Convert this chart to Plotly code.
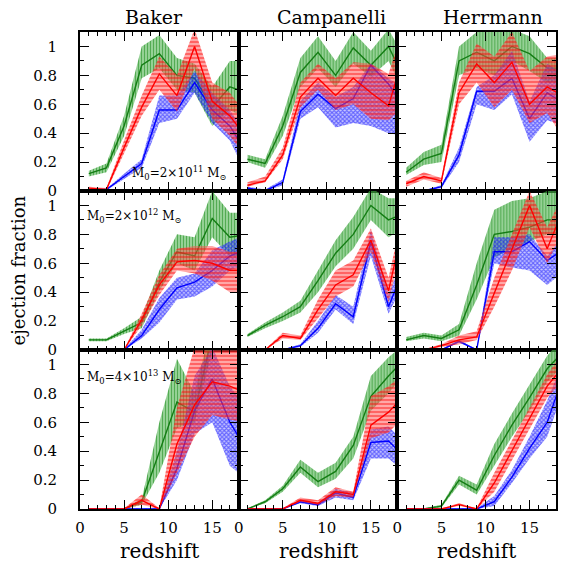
import plotly.graph_objects as go
from plotly.subplots import make_subplots

redshift = [1, 3, 5, 7, 9, 11, 13, 15, 17, 19]
models = ["Baker", "Campanelli", "Herrmann"]
mass_labels = ["M<sub>0</sub>=2×10<sup>11</sup> M<sub>⊙</sub>",
               "M<sub>0</sub>=2×10<sup>12</sup> M<sub>⊙</sub>",
               "M<sub>0</sub>=4×10<sup>13</sup> M<sub>⊙</sub>"]
y_ticks = [0, 0.2, 0.4, 0.6, 0.8, 1]
y_ticktext = ["0", "0.2", "0.4", "0.6", "0.8", "1"]
x_ticks = [0, 5, 10, 15]

# ---- Baker, M0 = 2e11 ----
baker_11_green_mid = [0.12, 0.16, 0.45, 0.87, 0.95, 0.80, 0.78, 0.58, 0.72, 0.68]
baker_11_green_lo = [0.10, 0.13, 0.38, 0.78, 0.85, 0.70, 0.68, 0.45, 0.56, 0.50]
baker_11_green_hi = [0.14, 0.19, 0.52, 1.00, 1.08, 0.92, 0.88, 0.72, 0.90, 0.90]
baker_11_red_mid = [0.02, 0.01, 0.30, 0.58, 0.81, 0.66, 1.00, 0.62, 0.52, 0.36]
baker_11_red_lo = [0.01, 0.00, 0.26, 0.52, 0.70, 0.55, 0.85, 0.50, 0.38, 0.22]
baker_11_red_hi = [0.03, 0.02, 0.35, 0.66, 0.93, 0.80, 1.12, 0.75, 0.68, 0.52]
baker_11_blue_mid = [0.01, 0.01, 0.10, 0.19, 0.56, 0.56, 0.75, 0.56, 0.45, 0.25]
baker_11_blue_lo = [0.005, 0.005, 0.08, 0.16, 0.47, 0.50, 0.68, 0.47, 0.35, 0.10]
baker_11_blue_hi = [0.015, 0.015, 0.12, 0.22, 0.66, 0.66, 0.83, 0.68, 0.56, 0.38]

# ---- Campanelli, M0 = 2e11 ----
camp_11_green_mid = [0.22, 0.19, 0.45, 0.82, 0.96, 0.80, 0.99, 0.87, 1.00, 0.75]
camp_11_green_lo = [0.20, 0.16, 0.38, 0.72, 0.85, 0.72, 0.88, 0.79, 0.90, 0.65]
camp_11_green_hi = [0.25, 0.22, 0.52, 0.92, 1.07, 0.90, 1.10, 0.97, 1.12, 0.90]
camp_11_red_mid = [0.04, 0.07, 0.25, 0.65, 0.78, 0.66, 0.78, 0.68, 0.59, 1.00]
camp_11_red_lo = [0.03, 0.06, 0.22, 0.58, 0.70, 0.56, 0.60, 0.50, 0.49, 0.60]
camp_11_red_hi = [0.06, 0.10, 0.30, 0.75, 0.88, 0.78, 0.89, 0.88, 0.81, 1.20]
camp_11_blue_mid = [0.02, 0.00, 0.06, 0.55, 0.67, 0.57, 0.64, 0.87, 0.74, 0.55]
camp_11_blue_lo = [0.01, 0.00, 0.04, 0.50, 0.58, 0.44, 0.47, 0.45, 0.40, 0.38]
camp_11_blue_hi = [0.03, 0.01, 0.08, 0.62, 0.75, 0.65, 0.72, 0.88, 0.78, 0.70]

# ---- Herrmann, M0 = 2e11 ----
herr_11_green_mid = [0.13, 0.22, 0.26, 0.90, 0.96, 0.90, 1.00, 0.95, 0.85, 0.85]
herr_11_green_lo = [0.11, 0.18, 0.20, 0.80, 0.85, 0.80, 0.90, 0.83, 0.75, 0.75]
herr_11_green_hi = [0.16, 0.27, 0.32, 1.00, 1.10, 1.10, 1.12, 1.07, 0.92, 0.92]
herr_11_red_mid = [0.05, 0.10, 0.07, 0.68, 0.88, 0.75, 0.89, 0.60, 0.72, 0.65]
herr_11_red_lo = [0.03, 0.08, 0.05, 0.60, 0.75, 0.58, 0.70, 0.47, 0.54, 0.35]
herr_11_red_hi = [0.07, 0.13, 0.09, 0.75, 1.02, 0.93, 1.10, 0.83, 0.93, 0.95]
herr_11_blue_mid = [0.00, 0.00, 0.03, 0.25, 0.69, 0.69, 0.78, 0.50, 0.68, 0.60]
herr_11_blue_lo = [0.00, 0.00, 0.02, 0.20, 0.60, 0.56, 0.67, 0.34, 0.49, 0.45]
herr_11_blue_hi = [0.005, 0.005, 0.04, 0.30, 0.72, 0.80, 0.97, 0.62, 0.88, 0.80]

# ---- Baker, M0 = 2e12 ----
baker_12_green_mid = [0.07, 0.07, 0.13, 0.19, 0.47, 0.68, 0.65, 0.91, 0.78, 0.80]
baker_12_green_lo = [0.06, 0.06, 0.11, 0.15, 0.41, 0.60, 0.55, 0.78, 0.65, 0.65]
baker_12_green_hi = [0.08, 0.08, 0.15, 0.23, 0.55, 0.80, 0.78, 1.10, 0.95, 0.95]
baker_12_red_mid = [0.00, 0.00, 0.00, 0.21, 0.45, 0.61, 0.62, 0.60, 0.55, 0.55]
baker_12_red_lo = [0.00, 0.00, 0.00, 0.17, 0.38, 0.55, 0.53, 0.48, 0.40, 0.40]
baker_12_red_hi = [0.005, 0.005, 0.005, 0.25, 0.52, 0.70, 0.72, 0.72, 0.68, 0.68]
baker_12_blue_mid = [0.00, 0.00, 0.00, 0.10, 0.28, 0.43, 0.47, 0.55, 0.65, 0.70]
baker_12_blue_lo = [0.00, 0.00, 0.00, 0.08, 0.19, 0.35, 0.37, 0.44, 0.55, 0.60]
baker_12_blue_hi = [0.005, 0.005, 0.005, 0.14, 0.36, 0.50, 0.53, 0.69, 0.75, 0.80]

# ---- Campanelli, M0 = 2e12 ----
camp_12_green_mid = [0.10, 0.17, 0.23, 0.30, 0.48, 0.67, 0.80, 1.00, 0.90, 0.95]
camp_12_green_lo = [0.09, 0.15, 0.20, 0.26, 0.40, 0.58, 0.70, 0.90, 0.78, 0.85]
camp_12_green_hi = [0.11, 0.19, 0.26, 0.34, 0.55, 0.76, 0.92, 1.12, 1.05, 1.05]
camp_12_red_mid = [0.01, 0.00, 0.10, 0.08, 0.28, 0.45, 0.52, 0.76, 0.41, 0.95]
camp_12_red_lo = [0.005, 0.00, 0.08, 0.07, 0.22, 0.37, 0.44, 0.68, 0.33, 0.85]
camp_12_red_hi = [0.015, 0.005, 0.12, 0.10, 0.35, 0.55, 0.62, 0.84, 0.50, 1.05]
camp_12_blue_mid = [0.00, 0.00, 0.00, 0.03, 0.15, 0.32, 0.23, 0.75, 0.30, 0.60]
camp_12_blue_lo = [0.00, 0.00, 0.00, 0.02, 0.12, 0.28, 0.18, 0.65, 0.25, 0.50]
camp_12_blue_hi = [0.005, 0.005, 0.005, 0.04, 0.20, 0.38, 0.30, 0.83, 0.38, 0.70]

# ---- Herrmann, M0 = 2e12 ----
herr_12_green_mid = [0.07, 0.10, 0.08, 0.14, 0.45, 0.80, 0.82, 0.85, 0.90, 0.90]
herr_12_green_lo = [0.06, 0.08, 0.06, 0.10, 0.35, 0.64, 0.70, 0.75, 0.80, 0.80]
herr_12_green_hi = [0.09, 0.12, 0.10, 0.18, 0.60, 0.97, 1.03, 1.05, 1.10, 1.10]
herr_12_red_mid = [0.00, 0.00, 0.03, 0.07, 0.09, 0.39, 0.70, 1.00, 0.70, 1.00]
herr_12_red_lo = [0.00, 0.00, 0.02, 0.04, 0.07, 0.30, 0.55, 0.85, 0.60, 0.85]
herr_12_red_hi = [0.005, 0.005, 0.04, 0.10, 0.13, 0.50, 0.80, 1.10, 0.85, 1.10]
herr_12_blue_mid = [0.00, 0.00, 0.00, 0.06, 0.00, 0.68, 0.68, 0.75, 0.62, 0.70]
herr_12_blue_lo = [0.00, 0.00, 0.00, 0.05, 0.00, 0.60, 0.57, 0.55, 0.45, 0.55]
herr_12_blue_hi = [0.005, 0.005, 0.005, 0.07, 0.005, 0.78, 0.78, 0.80, 0.65, 0.80]

# ---- Baker, M0 = 4e13 ----
baker_13_green_mid = [0.00, 0.00, 0.00, 0.05, 0.40, 0.74, 0.67, 1.20, 1.20, 1.20]
baker_13_green_lo = [0.00, 0.00, 0.00, 0.03, 0.25, 0.56, 0.60, 1.10, 1.10, 1.10]
baker_13_green_hi = [0.005, 0.005, 0.005, 0.07, 0.60, 1.04, 0.80, 1.30, 1.30, 1.30]
baker_13_red_mid = [0.00, 0.00, 0.00, 0.06, 0.00, 0.45, 0.72, 0.88, 0.85, 0.80]
baker_13_red_lo = [0.00, 0.00, 0.00, 0.03, 0.00, 0.25, 0.50, 0.65, 0.62, 0.60]
baker_13_red_hi = [0.005, 0.005, 0.005, 0.10, 0.005, 0.70, 1.12, 1.15, 1.12, 1.10]
baker_13_blue_mid = [0.00, 0.00, 0.00, 0.00, 0.00, 0.28, 0.68, 0.90, 0.60, 0.40]
baker_13_blue_lo = [0.00, 0.00, 0.00, 0.00, 0.00, 0.20, 0.52, 0.60, 0.30, 0.20]
baker_13_blue_hi = [0.005, 0.005, 0.005, 0.005, 0.005, 0.40, 0.92, 1.12, 0.85, 0.70]

# ---- Campanelli, M0 = 4e13 ----
camp_13_green_mid = [0.00, 0.05, 0.14, 0.29, 0.19, 0.26, 0.44, 0.78, 0.92, 1.05]
camp_13_green_lo = [0.00, 0.04, 0.12, 0.25, 0.15, 0.21, 0.35, 0.68, 0.80, 0.95]
camp_13_green_hi = [0.005, 0.06, 0.16, 0.34, 0.25, 0.32, 0.50, 0.92, 1.05, 1.15]
camp_13_red_mid = [0.00, 0.00, 0.00, 0.06, 0.04, 0.12, 0.10, 0.58, 0.67, 0.80]
camp_13_red_lo = [0.00, 0.00, 0.00, 0.05, 0.03, 0.09, 0.08, 0.49, 0.53, 0.65]
camp_13_red_hi = [0.005, 0.005, 0.005, 0.08, 0.06, 0.15, 0.12, 0.78, 0.85, 0.95]
camp_13_blue_mid = [0.00, 0.00, 0.00, 0.05, 0.03, 0.11, 0.08, 0.46, 0.47, 0.35]
camp_13_blue_lo = [0.00, 0.00, 0.00, 0.04, 0.02, 0.08, 0.06, 0.35, 0.35, 0.25]
camp_13_blue_hi = [0.005, 0.005, 0.005, 0.06, 0.04, 0.14, 0.11, 0.55, 0.57, 0.45]

# ---- Herrmann, M0 = 4e13 ----
herr_13_green_mid = [0.00, 0.00, 0.02, 0.20, 0.13, 0.37, 0.58, 0.77, 0.97, 1.10]
herr_13_green_lo = [0.00, 0.00, 0.01, 0.17, 0.10, 0.30, 0.50, 0.68, 0.88, 1.00]
herr_13_green_hi = [0.005, 0.005, 0.03, 0.23, 0.17, 0.45, 0.66, 0.86, 1.06, 1.20]
herr_13_red_mid = [0.00, 0.00, 0.00, 0.03, 0.00, 0.18, 0.40, 0.62, 0.85, 1.00]
herr_13_red_lo = [0.00, 0.00, 0.00, 0.02, 0.00, 0.12, 0.33, 0.55, 0.77, 0.90]
herr_13_red_hi = [0.005, 0.005, 0.005, 0.04, 0.005, 0.25, 0.48, 0.70, 0.93, 1.10]
herr_13_blue_mid = [0.00, 0.00, 0.00, 0.00, 0.00, 0.05, 0.22, 0.42, 0.60, 0.95]
herr_13_blue_lo = [0.00, 0.00, 0.00, 0.00, 0.00, 0.02, 0.18, 0.35, 0.50, 0.85]
herr_13_blue_hi = [0.005, 0.005, 0.005, 0.005, 0.005, 0.09, 0.27, 0.50, 0.75, 1.05]

g = globals()
prefixes = ["baker", "camp", "herr"]
masses = ["11", "12", "13"]

styles = {
    "green": dict(line="rgb(20,125,20)", fill="rgba(90,185,90,0.6)",
                  pat=dict(shape="|", size=3, solidity=0.4, fgcolor="rgb(10,130,10)", fillmode="overlay")),
    "blue": dict(line="rgb(0,0,255)", fill="rgba(90,90,255,0.35)",
                 pat=dict(shape="x", size=3, solidity=0.6, fgcolor="rgb(0,0,255)", fillmode="overlay")),
    "red": dict(line="rgb(255,0,0)", fill="rgba(255,80,80,0.5)",
                pat=dict(shape="-", size=4, solidity=0.4, fgcolor="rgb(255,0,0)", fillmode="overlay")),
}

fig = make_subplots(rows=3, cols=3, horizontal_spacing=0, vertical_spacing=0)

for r, m in enumerate(masses):
    for c, p in enumerate(prefixes):
        for color in ["green", "blue", "red"]:
            mid = g[f"{p}_{m}_{color}_mid"]
            lo = g[f"{p}_{m}_{color}_lo"]
            hi = g[f"{p}_{m}_{color}_hi"]
            st = styles[color]
            fig.add_trace(go.Scatter(
                x=redshift + redshift[::-1], y=hi + lo[::-1],
                mode="lines", line=dict(width=0), fill="toself",
                fillcolor=st["fill"], fillpattern=st["pat"],
                hoverinfo="skip", showlegend=False), row=r + 1, col=c + 1)
            fig.add_trace(go.Scatter(
                x=redshift, y=mid, mode="lines",
                line=dict(color=st["line"], width=1.4),
                showlegend=False), row=r + 1, col=c + 1)

FONT = "DejaVu Serif"
for r in range(3):
    for c in range(3):
        fig.update_xaxes(
            range=[0, 18], tickvals=x_ticks, showticklabels=(r == 2),
            ticks="inside", ticklen=9, tickwidth=1.3, tickcolor="black",
            minor=dict(dtick=1, ticks="inside", ticklen=4, tickwidth=1, tickcolor="black"),
            showline=True, linecolor="black", linewidth=2, mirror="ticks",
            showgrid=False, zeroline=False, ticklabelstandoff=4,
            tickfont=dict(family=FONT, size=15, color="black"),
            row=r + 1, col=c + 1)
        fig.update_yaxes(
            range=[0, 1.1], tickvals=y_ticks, ticktext=y_ticktext, showticklabels=(c == 0),
            ticks="inside", ticklen=9, tickwidth=1.3, tickcolor="black",
            minor=dict(dtick=0.1, ticks="inside", ticklen=4, tickwidth=1, tickcolor="black"),
            showline=True, linecolor="black", linewidth=2, mirror="ticks",
            showgrid=False, zeroline=False, ticklabelstandoff=18,
            tickfont=dict(family=FONT, size=15, color="black"),
            row=r + 1, col=c + 1)

title_x = [(154 - 80) / 478, (333 - 80) / 478, (495 - 80) / 478]
annotations = []
for c, name in enumerate(models):
    annotations.append(dict(text=name, x=title_x[c], y=1, xref="paper", yref="paper",
                            xanchor="center", yanchor="middle", yshift=15, showarrow=False,
                            font=dict(family=FONT, size=19, color="black")))
    annotations.append(dict(text="redshift", x=(c + 0.5) / 3, y=0, xref="paper", yref="paper",
                            xanchor="center", yanchor="middle", yshift=-42, showarrow=False,
                            font=dict(family=FONT, size=20, color="black")))
annotations.append(dict(text="ejection fraction", x=0, y=0.5, xref="paper", yref="paper",
                        xanchor="center", yanchor="middle",
                        xshift=-62, textangle=-90, showarrow=False,
                        font=dict(family=FONT, size=18, color="black")))
annotations.append(dict(text=mass_labels[0], x=0.93, y=0.115, xref="x domain", yref="y domain",
                        xanchor="right", yanchor="middle", showarrow=False,
                        font=dict(family=FONT, size=12, color="black")))
annotations.append(dict(text=mass_labels[1], x=0.03, y=0.84, xref="x4 domain", yref="y4 domain",
                        xanchor="left", yanchor="middle", showarrow=False,
                        font=dict(family=FONT, size=12, color="black")))
annotations.append(dict(text=mass_labels[2], x=0.03, y=0.83, xref="x7 domain", yref="y7 domain",
                        xanchor="left", yanchor="middle", showarrow=False,
                        font=dict(family=FONT, size=12, color="black")))

fig.update_layout(width=563, height=566, margin=dict(l=80, r=5, t=32, b=57),
                  plot_bgcolor="white", paper_bgcolor="white",
                  annotations=annotations, showlegend=False)

fig.write_html("out.html", config={"displayModeBar": False},
               post_script="document.body.style.margin='0';document.body.style.padding='0';")
